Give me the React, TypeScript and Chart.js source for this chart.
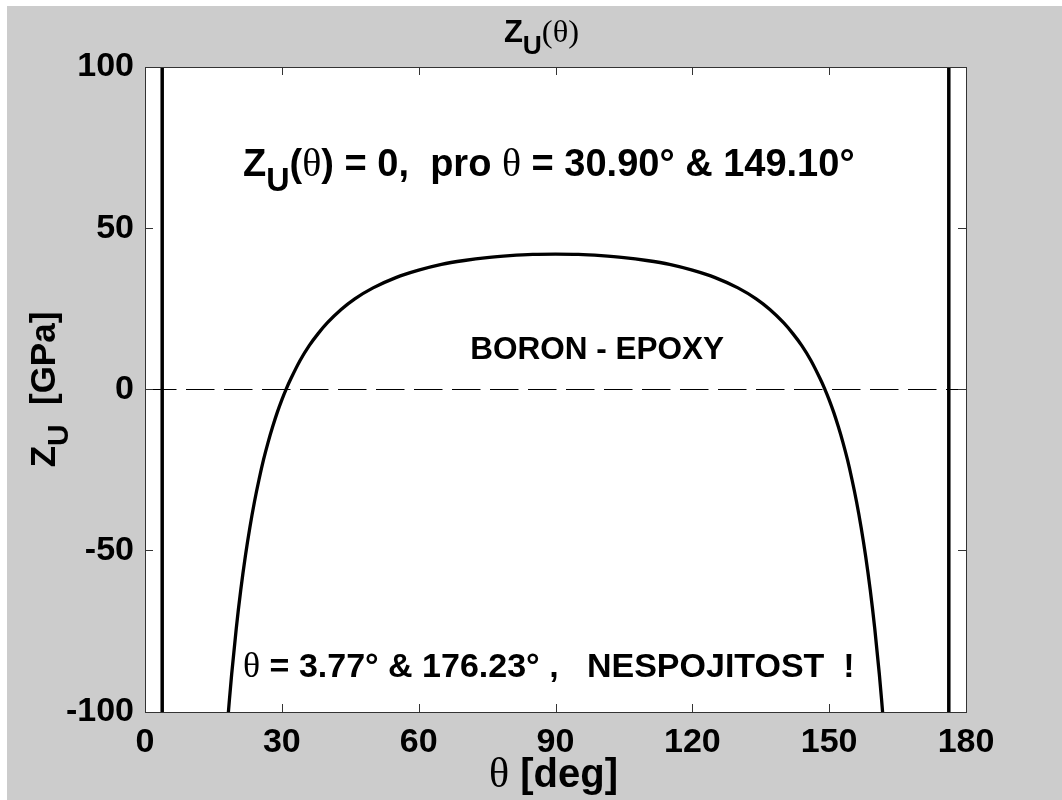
import React, { useEffect, useRef } from "react";
import { Chart, registerables } from "chart.js";

Chart.register(...registerables);

// ---- data ----
const thetaDeg = [
  17.5, 18, 18.5, 19, 20, 21, 22, 23, 24, 25, 26, 27, 28, 29, 30, 31, 32, 34, 36, 38, 40, 43, 46, 50, 55, 60, 65, 70, 75, 80, 85,
  90,
  95, 100, 105, 110, 115, 120, 125, 130, 134, 137, 140, 142, 144, 146, 148, 149, 150, 151, 152, 153, 154, 155, 156, 157, 158, 159, 160, 161, 161.5, 162, 162.5,
];
const zuGPa = [
  -114.6, -105.0, -96.3, -88.3, -74.2, -62.1, -51.7, -42.7, -34.8, -27.9, -21.7, -16.3, -11.5, -7.1, -3.2, 0.3, 3.4, 9.0, 13.6, 17.4, 20.7, 24.8, 28.1, 31.5, 34.7, 37.0, 38.8, 40.0, 40.9, 41.5, 41.9,
  42.0,
  41.9, 41.5, 40.9, 40.0, 38.8, 37.0, 34.7, 31.5, 28.1, 24.8, 20.7, 17.4, 13.6, 9.0, 3.4, 0.3, -3.2, -7.1, -11.5, -16.3, -21.7, -27.9, -34.8, -42.7, -51.7, -62.1, -74.2, -88.3, -96.3, -105.0, -114.6,
];
const discontinuityDeg = [3.77, 176.23];
const zeroLineX = [0, 180];
const xTickValues = [0, 30, 60, 90, 120, 150, 180];
const yTickValues = [-100, -50, 0, 50, 100];
const xRange = [0, 180];
const yRange = [-100, 100];

// ---- styles ----
const SANS = '"Liberation Sans", Arial, Helvetica, sans-serif';
const SERIF = '"Liberation Serif", "DejaVu Serif", "Times New Roman", serif';
const FIG_BG = "#cccccc";

type Seg = { t: string; serif?: boolean; sub?: boolean };

const titleSegs: Seg[] = [{ t: "Z" }, { t: "U", sub: true }, { t: "(θ)", serif: true }];
const xLabelSegs: Seg[] = [{ t: "θ", serif: true }, { t: " [deg]" }];
const yLabelSegs: Seg[] = [{ t: "Z" }, { t: "U", sub: true }, { t: "  [GPa]" }];

const notes: { segs: Seg[]; x: number; y: number; size: number }[] = [
  {
    segs: [
      { t: "Z" },
      { t: "U", sub: true },
      { t: "(" },
      { t: "θ", serif: true },
      { t: ") = 0,  pro " },
      { t: "θ", serif: true },
      { t: " = 30.90° & 149.10°" },
    ],
    x: 21.5,
    y: 70.3,
    size: 38,
  },
  { segs: [{ t: "BORON - EPOXY" }], x: 71.3, y: 13, size: 31.5 },
  {
    segs: [{ t: "θ", serif: true }, { t: " = 3.77° & 176.23° ,   NESPOJITOST  !" }],
    x: 21.5,
    y: -85.4,
    size: 34,
  },
];

function drawRich(
  ctx: CanvasRenderingContext2D,
  segs: Seg[],
  x: number,
  baseline: number,
  size: number,
  align: "left" | "center"
) {
  const items = segs.map((s) => {
    const fs = s.sub ? size * 0.85 : size;
    const font = s.serif ? `normal ${fs * 1.05}px ${SERIF}` : `bold ${fs}px ${SANS}`;
    ctx.font = font;
    const w = ctx.measureText(s.t).width;
    return { t: s.t, font, w, dy: s.sub ? size * 0.38 : 0 };
  });
  const total = items.reduce((a, b) => a + b.w, 0);
  let cx = align === "center" ? x - total / 2 : x;
  ctx.textAlign = "left";
  ctx.textBaseline = "alphabetic";
  ctx.fillStyle = "#000";
  for (const it of items) {
    ctx.font = it.font;
    ctx.fillText(it.t, cx, baseline + it.dy);
    cx += it.w;
  }
}

const figurePlugin = {
  id: "matlabFigure",
  beforeDraw(chart: any) {
    const { ctx, chartArea: a, width, height } = chart;
    ctx.save();
    ctx.fillStyle = FIG_BG;
    ctx.fillRect(0, 0, width, height);
    ctx.fillStyle = "#ffffff";
    ctx.fillRect(a.left, a.top, a.right - a.left, a.bottom - a.top);
    ctx.restore();
  },
  afterDraw(chart: any) {
    const { ctx, chartArea: a } = chart;
    const xs = chart.scales.x;
    const ys = chart.scales.y;
    ctx.save();
    // frame
    ctx.strokeStyle = "#333333";
    ctx.lineWidth = 1;
    ctx.strokeRect(Math.round(a.left) + 0.5, Math.round(a.top) + 0.5, Math.round(a.right - a.left), Math.round(a.bottom - a.top));
    // inward ticks
    const tl = 8;
    ctx.beginPath();
    for (const v of xTickValues) {
      const px = Math.round(xs.getPixelForValue(v)) + 0.5;
      ctx.moveTo(px, a.bottom);
      ctx.lineTo(px, a.bottom - tl);
      ctx.moveTo(px, a.top);
      ctx.lineTo(px, a.top + tl);
    }
    for (const v of yTickValues) {
      const py = Math.floor(ys.getPixelForValue(v)) + 0.5;
      ctx.moveTo(a.left, py);
      ctx.lineTo(a.left + tl, py);
      ctx.moveTo(a.right, py);
      ctx.lineTo(a.right - tl, py);
    }
    ctx.stroke();

    // title
    const cxMid = (a.left + a.right) / 2;
    drawRich(ctx, titleSegs, cxMid - 14, a.top - 25, 31, "center");
    // x label
    drawRich(ctx, xLabelSegs, cxMid - 2, a.bottom + 75, 40, "center");
    // y label (rotated)
    ctx.save();
    ctx.translate(a.left - 90, (a.top + a.bottom) / 2);
    ctx.rotate(-Math.PI / 2);
    drawRich(ctx, yLabelSegs, 0, 0, 35, "center");
    ctx.restore();
    // annotations
    for (const n of notes) {
      const px = xs.getPixelForValue(n.x);
      const py = ys.getPixelForValue(n.y);
      drawRich(ctx, n.segs, px, py + n.size * 0.36, n.size, "left");
    }
    ctx.restore();
  },
};

export default function App() {
  const canvasRef = useRef<HTMLCanvasElement | null>(null);

  useEffect(() => {
    const canvas = canvasRef.current;
    if (!canvas) return;
    const chart = new Chart(canvas, {
      type: "line",
      data: {
        datasets: [
          {
            label: "Z_U",
            data: thetaDeg.map((t, i) => ({ x: t, y: zuGPa[i] })),
            borderColor: "#000",
            borderWidth: 3.3,
            pointRadius: 0,
            cubicInterpolationMode: "monotone",
            clip: 0,
          } as any,
          {
            label: "zero",
            data: zeroLineX.map((x) => ({ x, y: 0 })),
            borderColor: "#000",
            borderWidth: 1,
            borderDash: [28.5, 9.5],
            borderDashOffset: -3,
            pointRadius: 0,
            clip: 0,
          } as any,
          ...discontinuityDeg.map(
            (d) =>
              ({
                label: "pole " + d,
                data: yRange.map((y) => ({ x: d, y })),
                borderColor: "#000",
                borderWidth: 3.5,
                pointRadius: 0,
                clip: 0,
              } as any)
          ),
        ],
      },
      options: {
        responsive: false,
        animation: false,
        events: [],
        layout: { padding: { left: 0, top: 61, right: 96, bottom: 0 } },
        plugins: {
          legend: { display: false },
          tooltip: { enabled: false },
          title: { display: false },
        },
        scales: {
          x: {
            type: "linear",
            min: xRange[0],
            max: xRange[1],
            afterFit: (s: any) => {
              s.height = 88;
            },
            afterBuildTicks: (s: any) => {
              s.ticks = xTickValues.map((v) => ({ value: v }));
            },
            grid: { display: false, drawTicks: false },
            border: { display: false },
            ticks: {
              color: "#000",
              padding: 10,
              maxRotation: 0,
              autoSkip: false,
              font: { family: SANS, size: 34, weight: "bold" },
            },
          },
          y: {
            type: "linear",
            min: yRange[0],
            max: yRange[1],
            afterFit: (s: any) => {
              s.width = 138;
            },
            afterBuildTicks: (s: any) => {
              s.ticks = yTickValues.map((v) => ({ value: v }));
            },
            grid: { display: false, drawTicks: false },
            border: { display: false },
            ticks: {
              color: "#000",
              padding: 11,
              autoSkip: false,
              font: { family: SANS, size: 34, weight: "bold" },
            },
          },
        },
      } as any,
      plugins: [figurePlugin],
    });
    return () => chart.destroy();
  }, []);

  return (
    <div style={{ position: "absolute", left: 7, top: 6 }}>
      <canvas ref={canvasRef} width={1055} height={794} style={{ display: "block" }} />
    </div>
  );
}
